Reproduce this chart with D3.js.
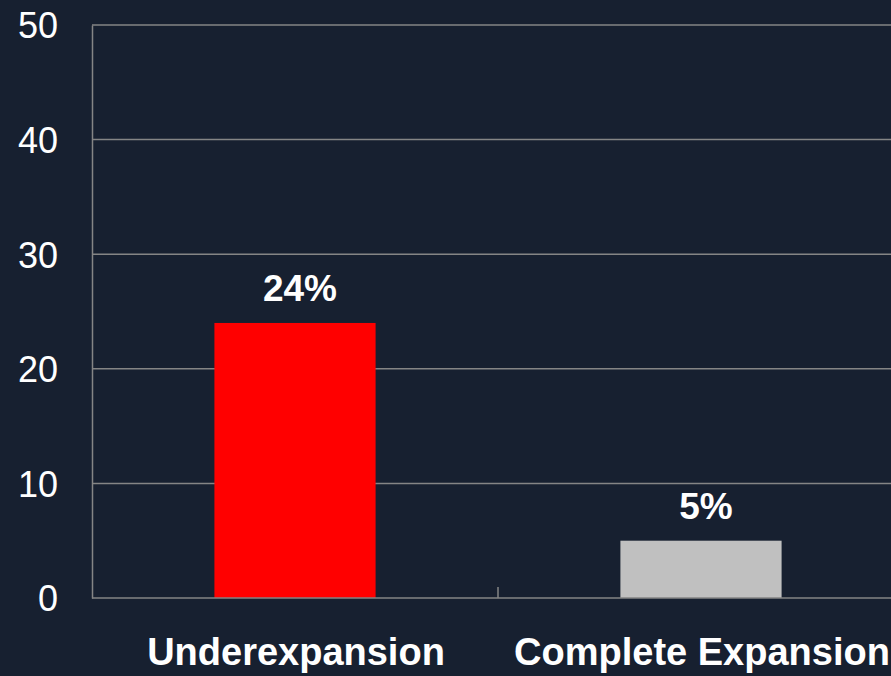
<!DOCTYPE html>
<html>
<head>
<meta charset="utf-8">
<script src="https://cdn.jsdelivr.net/npm/d3@7/dist/d3.min.js"></script>
<style>
  html, body { margin: 0; padding: 0; background: #172030; }
  svg { display: block; overflow: hidden; }
</style>
</head>
<body>
<svg id="chart" width="891" height="676"></svg>
<script>
// Stent expansion categories and their event rates (%)
const categories = ["Underexpansion", "Complete Expansion"];
const values = [24, 5];
const barColors = ["#ff0000", "#c0c0c0"];
const yTicks = [0, 10, 20, 30, 40, 50];

const W = 891, H = 676;
const plotLeft = 92, plotRight = 904, plotTop = 25, plotBottom = 598;
const font = "'Liberation Sans', Arial, sans-serif";

const svg = d3.select("#chart");
svg.append("rect").attr("width", W).attr("height", H).attr("fill", "#172030");

const x = d3.scaleBand()
  .domain(categories)
  .range([plotLeft, plotRight])
  .paddingInner(0.603)
  .paddingOuter(0.3015);

const xOuter = d3.scaleBand().domain(categories).range([plotLeft, plotRight]).padding(0);

const y = d3.scaleLinear().domain([0, 50]).range([plotBottom, plotTop]);

// horizontal gridlines
svg.append("g")
  .selectAll("line")
  .data(yTicks.filter(t => t > 0))
  .join("line")
  .attr("x1", plotLeft).attr("x2", plotRight)
  .attr("y1", d => y(d)).attr("y2", d => y(d))
  .attr("stroke", "#858585").attr("stroke-width", 1.5);

// y axis labels (no tick marks)
const yAxis = d3.axisLeft(y).tickValues(yTicks).tickSize(0).tickPadding(34);
const gy = svg.append("g").attr("transform", `translate(${plotLeft},0)`).call(yAxis);
gy.select(".domain").attr("stroke", "#858585").attr("stroke-width", 1.5);
gy.selectAll("text")
  .attr("fill", "#ffffff")
  .attr("font-family", font)
  .attr("font-size", 36)
  .attr("dy", "0.36em");

// bars
svg.append("g")
  .selectAll("rect")
  .data(values)
  .join("rect")
  .attr("x", (d, i) => x(categories[i]))
  .attr("y", d => y(d))
  .attr("width", x.bandwidth())
  .attr("height", d => y(0) - y(d))
  .attr("fill", (d, i) => barColors[i]);

// baseline with category separator ticks
svg.append("line")
  .attr("x1", plotLeft).attr("x2", plotRight)
  .attr("y1", y(0)).attr("y2", y(0))
  .attr("stroke", "#858585").attr("stroke-width", 1.5);
svg.append("g")
  .selectAll("line")
  .data(categories.slice(1))
  .join("line")
  .attr("x1", d => xOuter(d)).attr("x2", d => xOuter(d))
  .attr("y1", y(0)).attr("y2", y(0) - 11)
  .attr("stroke", "#858585").attr("stroke-width", 1.5);

// value labels
svg.append("g")
  .selectAll("text")
  .data(values)
  .join("text")
  .attr("x", (d, i) => x(categories[i]) + x.bandwidth() / 2 + 5)
  .attr("y", d => y(d) - 22)
  .attr("text-anchor", "middle")
  .attr("fill", "#ffffff")
  .attr("font-family", font)
  .attr("font-weight", "bold")
  .attr("font-size", 37)
  .text(d => d + "%");

// category labels
svg.append("g")
  .selectAll("text")
  .data(categories)
  .join("text")
  .attr("x", d => x(d) + x.bandwidth() / 2 + 1)
  .attr("y", 665)
  .attr("text-anchor", "middle")
  .attr("fill", "#ffffff")
  .attr("font-family", font)
  .attr("font-weight", "bold")
  .attr("font-size", 38)
  .text(d => d);
</script>
</body>
</html>
